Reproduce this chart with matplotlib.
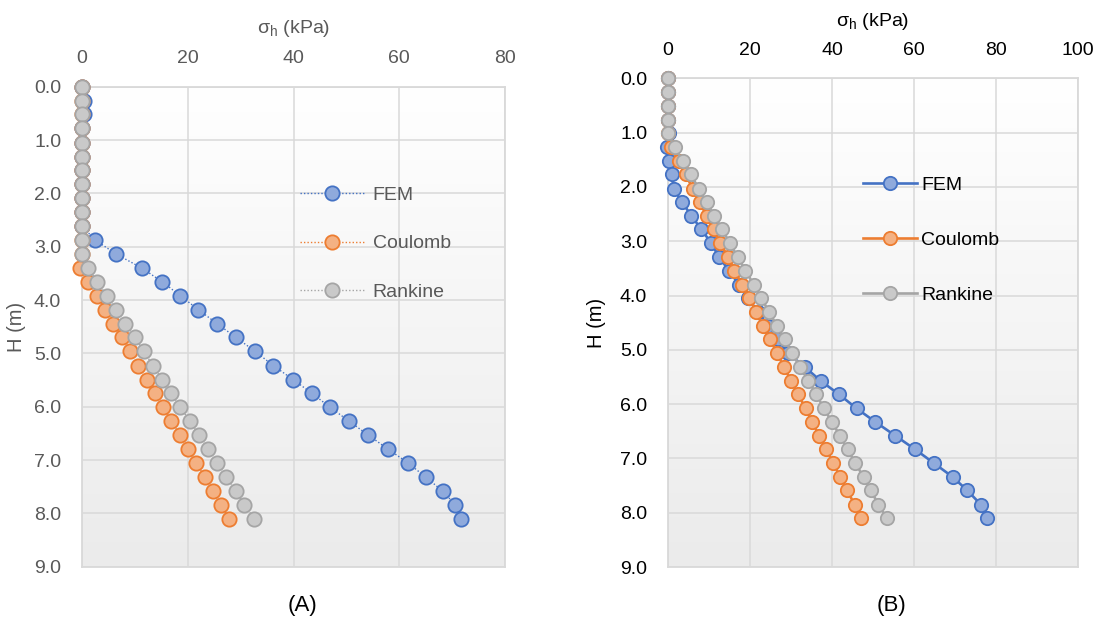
import numpy as np
import matplotlib
matplotlib.use('Agg')
import matplotlib.pyplot as plt
from matplotlib.colors import LinearSegmentedColormap

plt.rcParams['font.family'] = ['Liberation Sans', 'DejaVu Sans']

# --- dados ---
# (A) profundidade (m) e tensão horizontal (kPa)
depth_a = [0.00, 0.26, 0.52, 0.78, 1.05, 1.31, 1.57, 1.83, 2.09, 2.35, 2.61,
           2.87, 3.14, 3.40, 3.66, 3.92, 4.18, 4.44, 4.70, 4.96, 5.23, 5.49,
           5.75, 6.01, 6.27, 6.53, 6.79, 7.05, 7.32, 7.58, 7.84, 8.10]
fem_a = [0, 0.4, 0.3, 0, 0, 0, 0, 0, 0, 0, 0,
         2.4, 6.5, 11.3, 15.2, 18.6, 22.0, 25.5, 29.1, 32.7, 36.2, 39.9,
         43.5, 46.9, 50.5, 54.1, 57.8, 61.6, 65.0, 68.2, 70.6, 71.7]
coulomb_a = [0, 0, 0, 0, 0, 0, 0, 0, 0, 0, 0, 0, 0,
             -0.3, 1.2, 2.9, 4.4, 5.9, 7.6, 9.1, 10.6, 12.2, 13.8, 15.4,
             16.9, 18.5, 20.0, 21.6, 23.2, 24.8, 26.3, 27.8]
rankine_a = [0, 0, 0, 0, 0, 0, 0, 0, 0, 0, 0, 0, 0,
             1.2, 2.9, 4.7, 6.5, 8.2, 10.0, 11.7, 13.4, 15.2, 16.9, 18.6,
             20.4, 22.1, 23.8, 25.6, 27.3, 29.1, 30.7, 32.6]

# (B)
depth_b = [0.00, 0.25, 0.51, 0.76, 1.01, 1.27, 1.52, 1.77, 2.03, 2.28, 2.53,
           2.78, 3.04, 3.29, 3.54, 3.80, 4.05, 4.30, 4.56, 4.81, 5.06, 5.32,
           5.57, 5.82, 6.08, 6.33, 6.58, 6.83, 7.09, 7.34, 7.59, 7.85, 8.10]
fem_b = [0, 0, 0, 0, 0.3, -0.2, 0.2, 0.9, 1.4, 3.4, 5.7,
         8.1, 10.6, 12.4, 14.9, 17.3, 19.5, 22.0, 24.4, 26.8, 29.2, 33.4,
         37.2, 41.7, 46.0, 50.6, 55.4, 60.2, 64.9, 69.4, 73.0, 76.3, 77.9]
coulomb_b = [0, 0, 0, 0, 0, 0.7, 2.6, 4.3, 6.0, 7.7, 9.4,
             11.1, 12.8, 14.6, 16.2, 18.1, 19.8, 21.5, 23.1, 24.9, 26.6, 28.3,
             30.0, 31.7, 33.6, 35.1, 36.9, 38.6, 40.3, 42.0, 43.7, 45.5, 47.1]
rankine_b = [0, 0, 0, 0, 0, 1.6, 3.6, 5.5, 7.5, 9.4, 11.3,
             13.2, 15.1, 17.0, 18.9, 20.9, 22.8, 24.6, 26.6, 28.5, 30.2, 32.3,
             34.2, 36.2, 38.0, 40.0, 41.9, 43.8, 45.7, 47.7, 49.5, 51.3, 53.4]

series_names = ['FEM', 'Coulomb', 'Rankine']
line_colors = ['#4472C4', '#ED7D31', '#A5A5A5']
fill_colors = ['#8FAADC', '#F4B183', '#C9C9C9']
y_ticks = [0, 1, 2, 3, 4, 5, 6, 7, 8, 9]

grid_col = '#d9d9d9'
grad = LinearSegmentedColormap.from_list('bg', ['#ffffff', '#ebebeb'])

fig = plt.figure(figsize=(10.98, 6.19), dpi=100)
ax_a = fig.add_axes([82 / 1098, 1 - 566.7 / 619, 423 / 1098, 480 / 619])
ax_b = fig.add_axes([668 / 1098, 1 - 567 / 619, 410 / 1098, 488.7 / 619])


def montar_painel(ax, depth, series, xmax, xstep, text_col, ls, lw, ms,
                  leg_anchor, leg_opts, ylab_x, xlab_y):
    ax.imshow(np.linspace(0, 1, 256).reshape(-1, 1), cmap=grad, aspect='auto',
              extent=[0, 1, 0, 1], transform=ax.transAxes, zorder=0)
    for vals, name, lc, fc in zip(series, series_names, line_colors, fill_colors):
        ax.plot(vals, depth, linestyle=ls, linewidth=lw, color=lc,
                marker='o', markersize=ms, markerfacecolor=fc,
                markeredgecolor=lc, markeredgewidth=1.3, label=name,
                clip_on=False, zorder=3)
    ax.set_xlim(0, xmax)
    ax.set_ylim(9, 0)
    ax.set_xticks(np.arange(0, xmax + 1, xstep))
    ax.set_yticks(y_ticks)
    ax.set_yticklabels([f'{v:.1f}' for v in y_ticks])
    ax.xaxis.tick_top()
    ax.xaxis.set_label_position('top')
    ax.tick_params(axis='both', length=0, labelsize=14, labelcolor=text_col)
    ax.tick_params(axis='x', pad=14)
    ax.tick_params(axis='y', pad=15)
    ax.grid(True, color=grid_col, linewidth=1.1, zorder=1)
    ax.set_axisbelow(True)
    for s in ax.spines.values():
        s.set_color(grid_col)
        s.set_linewidth(1.3)
    ax.set_xlabel(r'σ$_\mathregular{h}$ (kPa)', fontsize=14, color=text_col)
    ax.xaxis.set_label_coords(0.5, xlab_y)
    ax.set_ylabel('H (m)', fontsize=14.5, color=text_col)
    ax.yaxis.set_label_coords(ylab_x, 0.5)
    leg = ax.legend(loc='upper left', bbox_to_anchor=leg_anchor, frameon=False,
                    fontsize=14, borderpad=0, borderaxespad=0, **leg_opts)
    for t in leg.get_texts():
        t.set_color(text_col)


montar_painel(ax_a, depth_a, [fem_a, coulomb_a, rankine_a], 80, 20, '#595959',
              (0, (1, 1.5)), 1.0, 10.3, (0.515, 0.793),
              dict(handlelength=3.3, handletextpad=0.45, labelspacing=1.6),
              -0.132, 1.112)
montar_painel(ax_b, depth_b, [fem_b, coulomb_b, rankine_b], 100, 20, '#000000',
              '-', 1.9, 9.6, (0.476, 0.800),
              dict(handlelength=2.75, handletextpad=0.25, labelspacing=1.93),
              -0.152, 1.106)

fig.text(303 / 1098, 1 - 605 / 619, '(A)', fontsize=16, color='#000000',
         ha='center', va='center')
fig.text(892 / 1098, 1 - 605 / 619, '(B)', fontsize=16, color='#000000',
         ha='center', va='center')

fig.savefig('out.png', dpi=100)
